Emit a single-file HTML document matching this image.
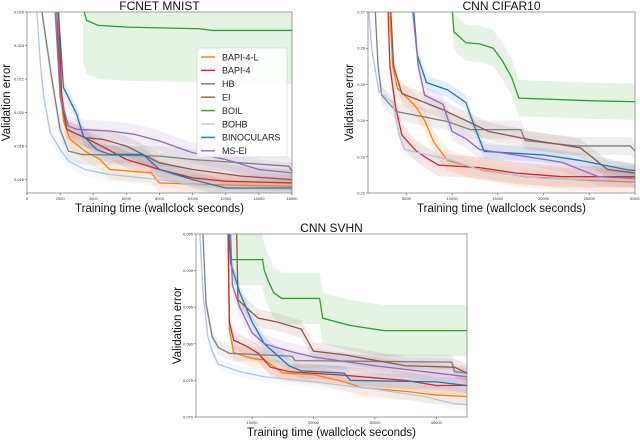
<!DOCTYPE html>
<html><head><meta charset="utf-8"><style>
body{margin:0;background:#fff;width:640px;height:439px;overflow:hidden;font-family:"Liberation Sans",sans-serif}
svg text{font-family:"Liberation Sans","DejaVu Sans",sans-serif}
</style></head><body>
<svg id="chart" width="640" height="439" xmlns="http://www.w3.org/2000/svg"></svg>
<script>
const seriesNames = ["BAPI-4-L","BAPI-4","HB","EI","BOIL","BOHB","BINOCULARS","MS-EI"];
const seriesColors = ["#ff7f0e","#d62728","#7f7f7f","#8c564b","#2ca02c","#aec7e8","#1f77b4","#9467bd"];

// FCNET MNIST
const fcnetXTicks = [0,2000,4000,6000,8000,10000,12000,14000,16000];
const fcnetYTicks = [0.016,0.018,0.020,0.022,0.024,0.026];
const fcnetBapi4L = [[1900,0.026],[2000,0.022],[2200,0.0195],[2600,0.0184],[3500,0.0177],[4400,0.0172],[5000,0.0166],[7500,0.0164],[8000,0.0158],[11000,0.0157],[16000,0.0156]];
const fcnetBapi4 = [[1900,0.026],[2100,0.021],[2400,0.0190],[3500,0.0185],[4500,0.0180],[6000,0.0172],[8000,0.0166],[10000,0.0161],[12000,0.0159],[16000,0.0158]];
const fcnetHB = [[900,0.026],[1200,0.024],[1500,0.022],[2000,0.0190],[2500,0.0177],[3300,0.0175],[8000,0.0174],[10000,0.0172],[15800,0.0168],[16000,0.0165]];
const fcnetEI = [[1800,0.026],[2000,0.021],[2400,0.0190],[3500,0.0185],[4600,0.0184],[6000,0.0180],[8000,0.0170],[10000,0.0166],[13000,0.0162],[16000,0.0160]];
const fcnetBOIL = [[3400,0.0262],[3600,0.0255],[4300,0.0252],[6000,0.0251],[10400,0.0250],[11200,0.0249],[16000,0.0249]];
const fcnetBOHB = [[600,0.026],[800,0.023],[1000,0.021],[1400,0.0188],[2000,0.0178],[2500,0.0171],[3500,0.0166],[5000,0.0163],[8000,0.0160],[10000,0.0157],[13000,0.0155],[16000,0.0154]];
const fcnetBinoculars = [[1900,0.026],[2200,0.0215],[3000,0.0199],[3400,0.0186],[4200,0.0178],[5000,0.0175],[7000,0.0175],[8000,0.0166],[10000,0.0160],[12000,0.0155],[16000,0.0155]];
const fcnetMSEI = [[1700,0.026],[2000,0.021],[2500,0.0192],[3000,0.0190],[5000,0.0189],[6500,0.0187],[8000,0.0183],[10000,0.0176],[12000,0.0172],[14000,0.0166],[16000,0.0164]];
const fcnetBands = [0.0006,0.0005,0.0006,0.0006,0.0032,0.0004,0.0005,0.0006];

// CNN CIFAR10
const cifarXTicks = [5000,10000,15000,20000,25000,30000];
const cifarYTicks = [0.22,0.23,0.24,0.25,0.26,0.27];
const cifarBapi4L = [[3200,0.27],[3500,0.255],[4000,0.249],[6000,0.244],[7000,0.240],[8000,0.234],[9500,0.229],[13000,0.2265],[18000,0.2245],[25000,0.2235],[30000,0.2230]];
const cifarBapi4 = [[3000,0.27],[3200,0.255],[3800,0.244],[4500,0.236],[6000,0.2318],[7000,0.230],[8500,0.2277],[13000,0.2270],[17000,0.2255],[22000,0.2245],[30000,0.2245]];
const cifarHB = [[1600,0.27],[1900,0.255],[2300,0.247],[3900,0.2425],[9400,0.2398],[12000,0.2375],[17500,0.2375],[18000,0.2345],[23500,0.2330],[29500,0.2330],[30000,0.2315]];
const cifarEI = [[3300,0.27],[3600,0.255],[4500,0.2475],[6500,0.2455],[9000,0.243],[11500,0.240],[14000,0.237],[19000,0.2345],[24000,0.2325],[27000,0.2265],[30000,0.2255]];
const cifarBOIL = [[10000,0.271],[10200,0.2645],[11500,0.2615],[13000,0.2612],[14500,0.2600],[15500,0.2565],[16500,0.252],[17300,0.2462],[25000,0.2455],[30000,0.2452]];
const cifarBOHB = [[900,0.27],[1200,0.26],[2000,0.248],[3500,0.245],[4200,0.236],[4800,0.232],[10000,0.229],[13500,0.226],[20000,0.2240],[30000,0.2235]];
const cifarBinoculars = [[5800,0.27],[6200,0.258],[7200,0.2505],[9500,0.2485],[11500,0.245],[12500,0.238],[13500,0.2315],[20000,0.2305],[24000,0.229],[29000,0.2265],[30000,0.2262]];
const cifarMSEI = [[5700,0.27],[6300,0.255],[7000,0.247],[9000,0.2445],[10000,0.237],[11500,0.235],[13000,0.232],[17000,0.2305],[22000,0.2285],[26000,0.2245],[30000,0.2240]];
const cifarBands = [0.003,0.003,0.0025,0.0025,0.005,0.002,0.002,0.0025];

// CNN SVHN
const svhnXTicks = [10000,20000,30000,40000];
const svhnYTicks = [0.070,0.075,0.080,0.085,0.090,0.095];
const svhnBapi4L = [[6100,0.095],[6300,0.082],[7000,0.0788],[10000,0.0780],[12000,0.0778],[15000,0.0760],[20000,0.0758],[25000,0.0748],[28000,0.0740],[35000,0.0735],[40000,0.0730],[45000,0.0728]];
const svhnBapi4 = [[6100,0.095],[6300,0.083],[7000,0.0805],[9000,0.0797],[11000,0.0787],[13000,0.0768],[16000,0.0762],[25000,0.0757],[35000,0.0750],[40000,0.0743],[45000,0.0743]];
const svhnHB = [[2000,0.095],[2500,0.0855],[3500,0.081],[4500,0.0795],[6300,0.0787],[16500,0.0783],[17000,0.0777],[42500,0.0775],[43000,0.0762],[45000,0.0760]];
const svhnEI = [[7500,0.095],[7700,0.0860],[9000,0.0850],[11000,0.0835],[14000,0.0830],[18000,0.0820],[20000,0.0790],[25000,0.0785],[35000,0.0770],[43000,0.0768],[45000,0.0760]];
const svhnBOIL = [[6400,0.0955],[6600,0.0915],[11700,0.0915],[12000,0.090],[12700,0.0885],[13500,0.0870],[14800,0.0862],[21000,0.0862],[21500,0.0835],[26000,0.0825],[31500,0.0818],[45000,0.0818]];
const svhnBOHB = [[1500,0.095],[2000,0.087],[2800,0.081],[3500,0.079],[4500,0.0772],[8000,0.0762],[12000,0.0755],[20000,0.0748],[30000,0.0738],[38000,0.0728],[43000,0.0718],[45000,0.0717]];
const svhnBinoculars = [[6200,0.095],[6500,0.091],[8000,0.087],[10000,0.083],[12000,0.080],[14000,0.0785],[16000,0.0770],[18000,0.0763],[25000,0.0760],[26000,0.0750],[40000,0.0748],[45000,0.0743]];
const svhnMSEI = [[6500,0.095],[6800,0.088],[8000,0.085],[10000,0.0815],[12000,0.0800],[16000,0.0790],[20000,0.0782],[30000,0.0770],[40000,0.0760],[45000,0.0755]];
const svhnBands = [0.0012,0.0012,0.001,0.0012,0.0035,0.0008,0.001,0.0012];

const NS="http://www.w3.org/2000/svg";
const svg=document.getElementById('chart');
function mk(tag,attrs,parent){const e=document.createElementNS(NS,tag);for(const k in attrs)e.setAttribute(k,attrs[k]);(parent||svg).appendChild(e);return e;}
let clipId=0;
function panel(key,title,box,xd,yd,xt,yt,fmt,series,bands,legend){
  const g=mk('g',{});
  
  
  const xs=v=>box.x+(v-xd[0])/(xd[1]-xd[0])*box.w;
  const ys=v=>box.y+box.h-(v-yd[0])/(yd[1]-yd[0])*box.h;
  const cid='clip'+(clipId++);
  const cp=mk('clipPath',{id:cid},g);mk('rect',{x:box.x,y:box.y,width:box.w,height:box.h},cp);
  const plot=mk('g',{'clip-path':'url(#'+cid+')'},g);
  
  
  series.forEach((s,i)=>{
    const d=bands[i];let path='';
    s.forEach((p,j)=>{path+=(j?'L':'M')+xs(p[0])+','+ys(p[1]+d);});
    for(let k=s.length-1;k>=0;k--)path+='L'+xs(s[k][0])+','+ys(s[k][1]-d);
    path+='Z';
    const b=mk('path',{d:path,fill:seriesColors[i],'fill-opacity':0.12,stroke:'none'},plot);
    
    
  });
  series.forEach((s,i)=>{
    let path='';s.forEach((p,j)=>{path+=(j?'L':'M')+xs(p[0])+','+ys(p[1]);});
    const l=mk('path',{d:path,fill:'none',stroke:seriesColors[i],'stroke-width':1.3},plot);
    
    
  });
  const fr=mk('rect',{x:box.x,y:box.y,width:box.w,height:box.h,fill:'none',stroke:'#888','stroke-width':0.8},g);
  
  
  xt.forEach(v=>{const x=xs(v);mk('line',{x1:x,x2:x,y1:box.y+box.h,y2:box.y+box.h+2,stroke:'#555','stroke-width':0.6},g);
    const t=mk('text',{x:x,y:box.y+box.h+7,'font-size':4,'text-anchor':'middle',fill:'#333'},g);t.textContent=v;
    
    });
  yt.forEach(v=>{const y=ys(v);mk('line',{x1:box.x-2,x2:box.x,y1:y,y2:y,stroke:'#555','stroke-width':0.6},g);
    const t=mk('text',{x:box.x-3,y:y+1.5,'font-size':4,'text-anchor':'end',fill:'#333'},g);t.textContent=v.toFixed(fmt);
    
    });
  const tt=mk('text',{x:box.x+box.w/2,y:box.y-2,'font-size':12,'text-anchor':'middle',fill:'#111'},g);tt.textContent=title;
  
  
  const xl=mk('text',{x:box.x+box.w/2,y:box.y+box.h+19,'font-size':11.5,'text-anchor':'middle',fill:'#111'},g);xl.textContent='Training time (wallclock seconds)';
  
  
  const ly=box.y+box.h/2,lx=box.x-(key==='fcnet'?17:15);
  const yl=mk('text',{x:lx,y:ly,'font-size':11.5,'text-anchor':'middle',fill:'#111',transform:'rotate(-90 '+lx+' '+ly+')'},g);yl.textContent='Validation error';
  
  
  if(legend){
    const lg=mk('g',{},g);
    
    
    mk('rect',{x:197,y:48,width:90,height:109,fill:'#fff','fill-opacity':0.85,stroke:'#ccc','stroke-width':0.6,rx:2},lg);
    seriesNames.forEach((n,i)=>{const y=57+i*13.4;
      const e=mk('g',{},lg);
      
      
      mk('line',{x1:201,x2:215,y1:y,y2:y,stroke:seriesColors[i],'stroke-width':1.4},e);
      const t=mk('text',{x:222,y:y+3.3,'font-size':9,fill:'#222'},e);t.textContent=n;});
  }
}
panel('fcnet','FCNET MNIST',{x:27,y:12,w:265,h:181},[0,16000],[0.0152,0.026],fcnetXTicks,fcnetYTicks,3,
  [fcnetBapi4L,fcnetBapi4,fcnetHB,fcnetEI,fcnetBOIL,fcnetBOHB,fcnetBinoculars,fcnetMSEI],fcnetBands,true);
panel('cifar','CNN CIFAR10',{x:368,y:12,w:267,h:181},[800,30000],[0.22,0.27],cifarXTicks,cifarYTicks,2,
  [cifarBapi4L,cifarBapi4,cifarHB,cifarEI,cifarBOIL,cifarBOHB,cifarBinoculars,cifarMSEI],cifarBands,false);
panel('svhn','CNN SVHN',{x:196,y:234,w:271,h:183},[870,45000],[0.070,0.095],svhnXTicks,svhnYTicks,3,
  [svhnBapi4L,svhnBapi4,svhnHB,svhnEI,svhnBOIL,svhnBOHB,svhnBinoculars,svhnMSEI],svhnBands,false);
</script>
</body></html>
